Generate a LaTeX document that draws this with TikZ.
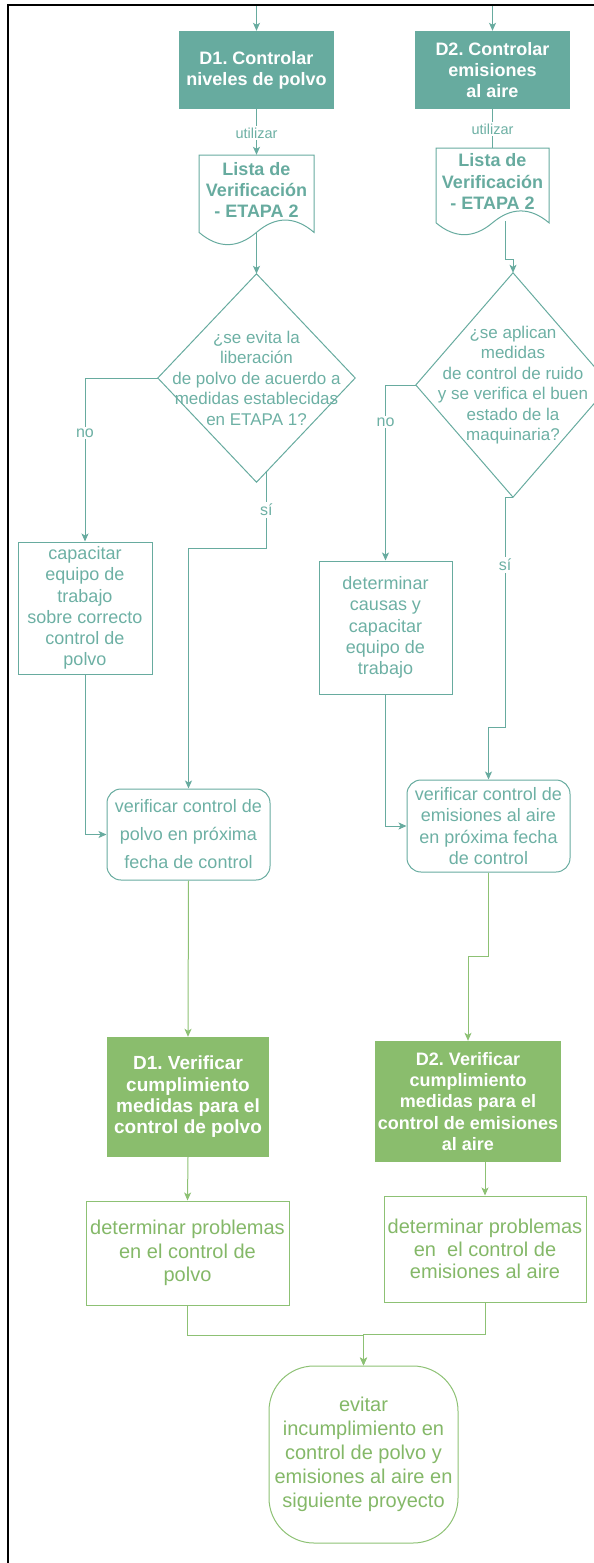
\documentclass[tikz,border=0pt]{standalone}
\usepackage{fontspec}
\setmainfont{Liberation Sans}
\frenchspacing
\usetikzlibrary{arrows.meta,calc}
\definecolor{teal1}{HTML}{67AB9F}
\definecolor{tealtxt}{HTML}{6DB0A4}
\definecolor{green1}{HTML}{8ABD6D}
\definecolor{greenln}{HTML}{8DC174}
\definecolor{greentxt}{HTML}{84B868}
\newcommand{\wavedoc}[4]{%
 \draw[tl] (#1,#2) -- ({#1+#3},#2) -- ({#1+#3},{#2+0.85*#4})
 .. controls ({#1+5*#3/6},{#2+0.67*#4}) and ({#1+2*#3/3},{#2+0.67*#4}) .. ({#1+#3/2},{#2+0.85*#4})
 .. controls ({#1+#3/3},{#2+1.03*#4}) and ({#1+#3/6},{#2+1.03*#4}) .. (#1,{#2+0.85*#4}) -- cycle;}
\tikzset{
 tl/.style={draw=teal1, line width=1pt},
 tarrow/.style={tl, -{Stealth[length=8pt,width=7pt,inset=2pt]}},
 gl/.style={draw=greenln, line width=1pt},
 garrow/.style={gl, -{Stealth[length=8pt,width=7pt,inset=2pt]}},
 tealfill/.style={rectangle, fill=teal1, text=white, align=center, inner sep=0pt, font=\bfseries\fontsize{18}{21}\selectfont},
 greenfill/.style={rectangle, fill=green1, text=white, align=center, inner sep=0pt, font=\bfseries\fontsize{18}{21.3}\selectfont},
 tealbox/.style={rectangle, draw=teal1, line width=1pt, text=tealtxt, align=center, inner sep=0pt, font=\fontsize{18}{21.2}\selectfont},
 greenbox/.style={rectangle, draw=greenln, line width=1pt, text=greentxt, align=center, inner sep=0pt, font=\fontsize{20}{23.5}\selectfont},
 doctext/.style={text=teal1, align=center, inner sep=0pt, font=\bfseries\fontsize{18}{21.3}\selectfont},
 diatext/.style={rectangle, text=tealtxt, align=center, inner sep=0pt, font=\fontsize{17}{20.5}\selectfont},
 lbl/.style={fill=white, text=tealtxt, inner sep=1.5pt, font=\fontsize{14.5}{16}\selectfont},
 lblb/.style={fill=white, text=tealtxt, inner sep=2pt, font=\fontsize{16}{18}\selectfont},
}
\begin{document}
\begin{tikzpicture}[x=1pt,y=-1pt]
\useasboundingbox (0,0) rectangle (594,1563);
\clip (0,0) rectangle (594,1563);

% top process boxes
\node[tealfill, minimum width=155, minimum height=78] (d1c) at (256.5,70) {D1. Controlar\\niveles de polvo};
\node[tealfill, minimum width=155, minimum height=78] (d2c) at (492.5,70) {D2. Controlar\\emisiones\\al aire};
\coordinate (in1) at (256.5,5);
\coordinate (in2) at (492.5,5);
\draw[tarrow] (in1) -- (d1c.north);
\draw[tarrow] (in2) -- (d2c.north);

% documents
\node[rectangle, inner sep=0pt, minimum width=115, minimum height=91] (doc1) at (256.5,200.5) {};
\node[rectangle, inner sep=0pt, minimum width=113, minimum height=88] (doc2) at (492.5,192) {};
\wavedoc{199}{155}{115}{91}
\wavedoc{436}{148}{113}{88}
\node[doctext] (doc1t) at (256.5,190) {Lista de\\Verificación\\- ETAPA 2};
\node[doctext] (doc2t) at (492.5,181.5) {Lista de\\Verificación\\- ETAPA 2};
\coordinate (doc1b) at (256.5,232.4);
\coordinate (doc2b) at (505,221);

\draw[tarrow] (d1c.south) -- (doc1.north);
\draw[tl] (d2c.south) -- (doc2.north);
\node[lbl] (u1) at (256.5,133) {utilizar};
\node[lbl] (u2) at (492.5,129) {utilizar};

% decisions
\node[diatext, minimum width=197, minimum height=208] (q1) at (256.5,378) {¿se evita la\\liberación\\de polvo de acuerdo a\\medidas establecidas\\en ETAPA 1?};
\draw[tl] (q1.north) -- (q1.east) -- (q1.south) -- (q1.west) -- cycle;
\node[diatext, minimum width=194, minimum height=224] (q2) at (513,385) {¿se aplican\\medidas\\de control de ruido\\y se verifica el buen\\estado de la\\maquinaria?};
\draw[tl] (q2.north) -- (q2.east) -- (q2.south) -- (q2.west) -- cycle;

\draw[tarrow] (doc1b) -- (q1.north);
\draw[tarrow] (doc2b) -- (505,259) -- (513,259) -- (q2.north);

% corrective boxes
\node[tealbox, minimum width=134, minimum height=132] (cap) at (85,608) {capacitar\\equipo de\\trabajo\\sobre correcto\\control de\\polvo};
\node[tealbox, minimum width=133, minimum height=133] (det) at (385.5,627.5) {determinar\\causas y\\capacitar\\equipo de\\trabajo};

% verify boxes
\node[tealbox, rounded corners=14pt, minimum width=163, minimum height=91, font=\fontsize{18}{28}\selectfont] (ver1) at (188.5,834.5) {verificar control de\\polvo en próxima\\fecha de control};
\node[tealbox, rounded corners=14pt, minimum width=163, minimum height=92] (ver2) at (488.5,826) {verificar control de\\emisiones al aire\\en próxima fecha\\de control};

% decision connectors
\coordinate (q1s) at ($(q1.south)!0.1!(q1.east)$);
\draw[tarrow] (q1.west) -| (cap.north);
\draw[tarrow] (q1s) -- ++(0,76.4) -| (ver1.north);
\draw[tarrow] (q2.west) -| (det.north);
\draw[tarrow] (q2.south) -- ++(-8,0) -- ++(0,230) -| (ver2.north);
\draw[tarrow] (cap.south) |- (ver1.west);
\draw[tarrow] (det.south) |- (ver2.west);
\node[lblb] (no1) at (85,433) {no};
\node[lblb] (si1) at (266.4,510) {sí};
\node[lblb] (no2) at (385.5,422) {no};
\node[lblb] (si2) at (505,565) {sí};

% green section
\node[greenfill, minimum width=162, minimum height=120, font=\bfseries\fontsize{19}{21.3}\selectfont] (v1) at (188,1097) {D1. Verificar\\cumplimiento\\medidas para el\\control de polvo};
\node[greenfill, minimum width=186, minimum height=121] (v2) at (468,1101.5) {D2. Verificar\\cumplimiento\\medidas para el\\control de emisiones\\al aire};
\node[greenbox, minimum width=203, minimum height=104] (p1) at (187.5,1253) {determinar problemas\\en el control de\\polvo};
\node[greenbox, minimum width=202, minimum height=106, font=\fontsize{20}{22.5}\selectfont] (p2) at (485,1249) {determinar problemas\\en\ \ el control de\\emisiones al aire};
\node[greenbox, rounded corners=45pt, minimum width=189, minimum height=177, font=\fontsize{20}{24}\selectfont] (ev) at (363.5,1454.5) {evitar\\incumplimiento en\\control de polvo y\\emisiones al aire en\\siguiente proyecto};

\draw[garrow] (ver1.south) -- (v1.north);
\draw[garrow] (ver2.south) -- ++(0,84) -| (v2.north);
\draw[garrow] (v1.south) -- (p1.north);
\draw[garrow] (p2.north |- v2.south) -- (p2.north);
\draw[garrow] (p1.south) -- ++(0,30) -| (ev.north);
\draw[garrow] (p2.south) -- ++(0,32) -| (ev.north);

% frame
\coordinate (fa) at (8,5);
\coordinate (fb) at (594,5);
\coordinate (fc) at (8,1563);
\draw[line width=2.5pt, black] (fb) -- (fa) -- (fc);
\end{tikzpicture}
\end{document}
